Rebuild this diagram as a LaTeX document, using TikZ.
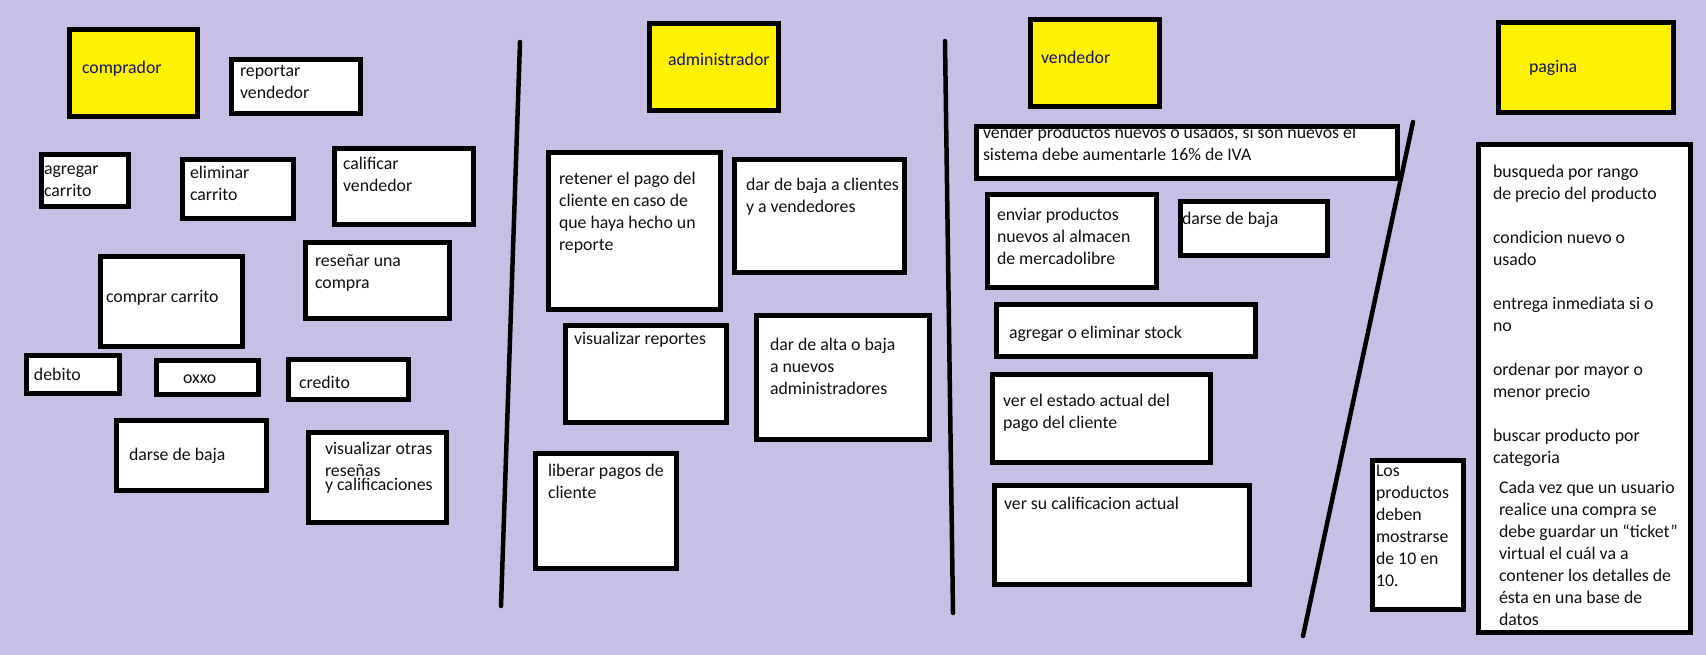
\documentclass[tikz,border=0pt]{standalone}
\usepackage{fontspec}
\setmainfont{Carlito}
\definecolor{bg}{HTML}{C8BFE7}
\definecolor{hdyellow}{HTML}{FFF200}
\definecolor{navy}{HTML}{14145A}
\definecolor{ink}{HTML}{101010}
\newcommand\mkcard[6][card]{\node[#1, minimum width={#5-#3-4.6}, minimum height={#6-#4-4.6}, anchor=north west] (#2) at ({#3+2.3},{#4+2.3}) {};}
\newcommand\mktext[5][txt]{\node[#1] (#2) at (#3,{#4-10}) {#5};}
\begin{document}
\begin{tikzpicture}[x=1pt,y=-1pt,
  card/.style={rectangle, draw=black, line width=4.6pt, fill=white, inner sep=0pt, outer sep=0pt},
  head/.style={card, fill=hdyellow},
  txt/.style={inner sep=0pt, outer sep=0pt, align=left, anchor=north west, font=\fontsize{17.8}{22}\selectfont, text=ink, execute at begin node=\rule{0pt}{13pt}},
  htxt/.style={txt, text=navy},
  divider/.style={draw=black, line width=4.5pt, line cap=round}]
\fill[bg] (0,0) rectangle (1706,655);
\useasboundingbox (0,0) rectangle (1706,655);

% dividers
\coordinate (d1a) at (520,42); \coordinate (d1b) at (501,606);
\coordinate (d2a) at (945,41); \coordinate (d2b) at (953,613);
\coordinate (d3a) at (1413,122); \coordinate (d3b) at (1303,636);
\draw[divider] (d1a) -- (d1b);
\draw[divider] (d2a) -- (d2b);
\draw[divider] (d3a) -- (d3b);

% headers
\mkcard[head]{comp}{67}{27}{200}{119}
\mktext[htxt]{comp-t}{82}{71}{comprador}
\mkcard[head]{admin}{647}{21}{781}{113}
\mktext[htxt]{admin-t}{668}{63}{administrador}
\mkcard[head]{vend}{1028}{17}{1162}{109}
\mktext[htxt]{vend-t}{1041}{61}{vendedor}
\mkcard[head]{pag}{1496}{20}{1676}{115}
\mktext[htxt]{pag-t}{1529}{70}{pagina}

% comprador column
\mkcard{rep}{229}{57}{363}{116}
\mktext{rep-t}{240}{75}{reportar\\vendedor}
\mkcard{agr}{39}{152}{131}{209}
\mktext{agr-t}{44}{176}{agregar\\carrito}
\mkcard{eli}{180}{157}{296}{221}
\mktext{eli-t}{190}{176}{eliminar\\carrito}
\mkcard{cal}{332}{146}{476}{227}
\mktext{cal-t}{343}{167}{calificar\\vendedor}
\mkcard{res}{303}{240}{452}{321}
\mktext{res-t}{315}{265}{reseñar una\\compra}
\mkcard{cc}{98}{254}{245}{349}
\mktext{cc-t}{106}{299}{comprar carrito}
\mkcard{deb}{24}{353}{122}{396}
\mktext{deb-t}{34}{377}{debito}
\mkcard{oxx}{154}{358}{261}{397}
\mktext{oxx-t}{183}{380}{oxxo}
\mkcard{cre}{286}{357}{411}{402}
\mktext{cre-t}{299}{385}{credito}
\mkcard{baja1}{114}{418}{269}{493}
\mktext{baja1-t}{129}{457}{darse de baja}
\mkcard{vis}{306}{430}{449}{525}
\mktext{vis-t}{325}{452}{visualizar otras\\reseñas\\[-8pt]y calificaciones}

% administrador column
\mkcard{ret}{546}{150}{723}{312}
\mktext{ret-t}{559}{182}{retener el pago del\\cliente en caso de\\que haya hecho un\\reporte}
\mkcard{dbc}{732}{157}{907}{275}
\mktext{dbc-t}{746}{188}{dar de baja a clientes\\y a vendedores}
\mkcard{vrep}{563}{323}{729}{425}
\mktext{vrep-t}{574}{341}{visualizar reportes}
\mkcard{alta}{754}{313}{932}{442}
\mktext{alta-t}{770}{348}{dar de alta o baja\\a nuevos\\administradores}
\mkcard{lib}{533}{451}{679}{571}
\mktext{lib-t}{548}{474}{liberar pagos de\\cliente}

% vendedor column
\mkcard{vp}{974}{124}{1400}{181}
\mktext{vp-t}{983}{136}{vender productos nuevos o usados, si son nuevos el\\sistema debe aumentarle 16\% de IVA}
\draw[line width=4.6pt] (vp.north west) rectangle (vp.south east);
\mkcard{env}{985}{192}{1159}{290}
\mktext{env-t}{997}{218}{enviar productos\\nuevos al almacen\\de mercadolibre}
\mkcard{baja2}{1178}{199}{1330}{258}
\mktext{baja2-t}{1182}{222}{darse de baja}
\mkcard{stk}{994}{302}{1258}{359}
\mktext{stk-t}{1009}{335}{agregar o eliminar stock}
\mkcard{est}{990}{372}{1213}{465}
\mktext{est-t}{1003}{404}{ver el estado actual del\\pago del cliente}
\mkcard{vcal}{992}{483}{1252}{587}
\mktext{vcal-t}{1004}{506}{ver su calificacion actual}

% pagina column
\mkcard{lst}{1476}{142}{1693}{635}
\mktext{lst-t}{1493}{175}{busqueda por rango\\de precio del producto\\[22pt]condicion nuevo o\\usado\\[22pt]entrega inmediata si o\\no\\[22pt]ordenar por mayor o\\menor precio\\[22pt]buscar producto por\\categoria}
\mktext{tick-t}{1499}{491}{Cada vez que un usuario\\realice una compra se\\debe guardar un “ticket”\\virtual el cuál va a\\contener los detalles de\\ésta en una base de\\datos}
\mkcard{diez}{1370}{458}{1466}{612}
\mktext{diez-t}{1376}{475}{Los\\productos\\deben\\mostrarse\\de 10 en\\10.}
\end{tikzpicture}
\end{document}
